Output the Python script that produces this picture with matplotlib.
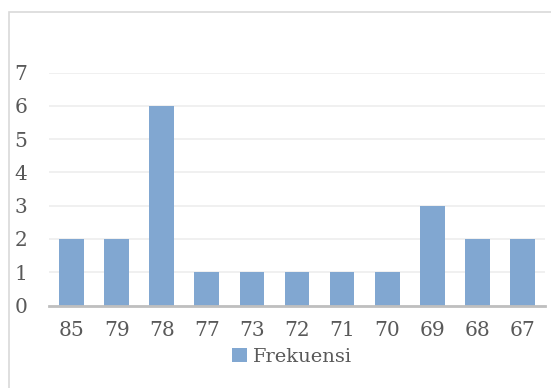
import matplotlib
matplotlib.use("Agg")
import matplotlib.pyplot as plt
from matplotlib.patches import Rectangle

# data
nilai = ["85", "79", "78", "77", "73", "72", "71", "70", "69", "68", "67"]
frekuensi = [2, 2, 6, 1, 1, 1, 1, 1, 3, 2, 2]
y_ticks = [0, 1, 2, 3, 4, 5, 6, 7]

W, H = 551, 388
BAR = "#81A7D1"
TXT = "#595959"

plt.rcParams["font.family"] = ["DejaVu Serif"]

fig = plt.figure(figsize=(W / 100, H / 100), dpi=100)

# chart frame (light grey border, runs off right/bottom edge)
fig.patches.append(Rectangle((8.5 / W, -0.1), 1.2, (H - 11.5) / H + 0.1,
                             transform=fig.transFigure, fill=False,
                             edgecolor="#d9d9d9", linewidth=1.2))

ax = fig.add_axes([49 / W, (H - 305.5) / H, (545 - 49) / W, (305.5 - 72.7) / H])
x = range(len(nilai))
ax.bar(x, frekuensi, width=0.55, color=BAR, label="Frekuensi", zorder=3)

ax.set_xlim(-0.5, len(nilai) - 0.5)
ax.set_ylim(0, 7)
ax.set_yticks(y_ticks)
ax.set_xticks(list(x))
ax.set_xticklabels(nilai)
ax.yaxis.grid(True, color="#eeeeee", linewidth=1.2, zorder=0)
ax.set_axisbelow(True)

for s in ("top", "right", "left"):
    ax.spines[s].set_visible(False)
ax.spines["bottom"].set_color("#bfbfbf")
ax.spines["bottom"].set_linewidth(2)
ax.spines["bottom"].set_zorder(4)

ax.tick_params(axis="both", length=0, labelsize=14.5, colors=TXT)
ax.tick_params(axis="x", pad=11.5)
ax.tick_params(axis="y", pad=15.5)

leg = ax.legend(loc="center", bbox_to_anchor=(292 / W, 1 - 357 / H),
                bbox_transform=fig.transFigure, frameon=False, fontsize=14,
                handlelength=0.75, handleheight=0.75, handletextpad=0.3,
                borderpad=0, labelcolor=TXT)

fig.savefig("out.png", dpi=100)
